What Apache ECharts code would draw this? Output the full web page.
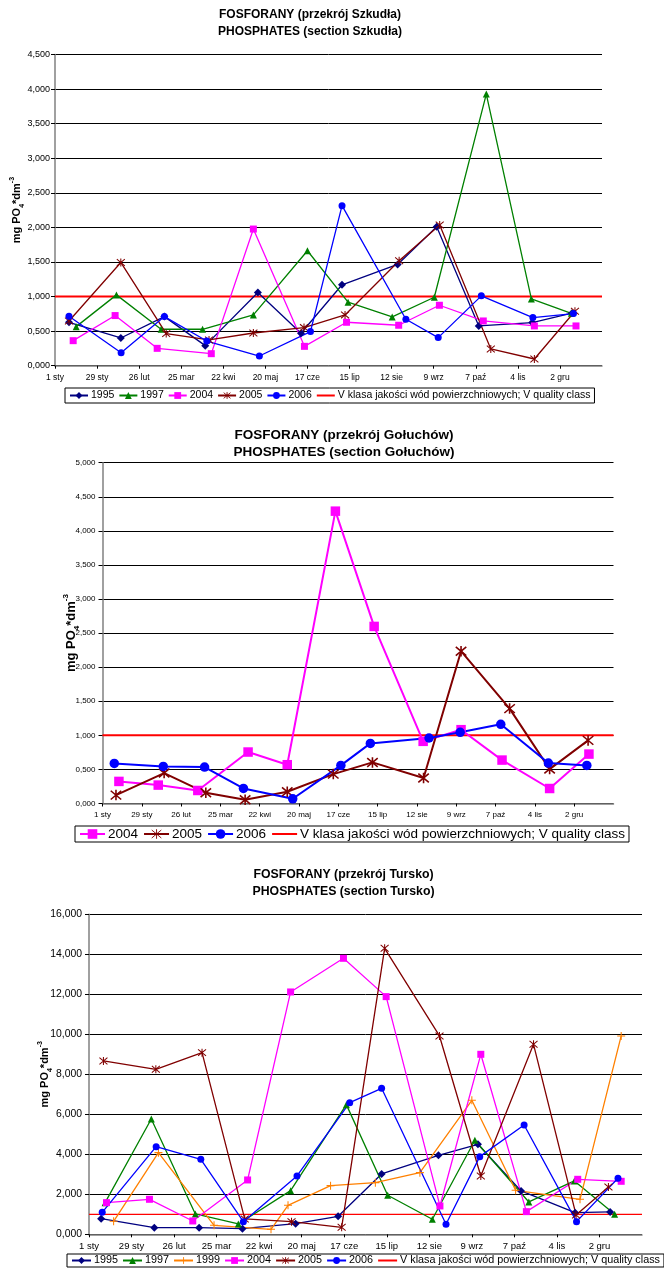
<!DOCTYPE html>
<html>
<head>
<meta charset="utf-8">
<script src="https://cdn.jsdelivr.net/npm/echarts@6/dist/echarts.min.js"></script>
<style>
html,body{margin:0;padding:0;background:#fff;}
.c{position:absolute;left:0;top:0;width:664px;height:1274px;}
</style>
</head>
<body>
<div id="c1" class="c"></div>
<div id="c2" class="c"></div>
<div id="c3" class="c"></div>
<script>
// ---------- x tick labels (every 28 days from 1 Jan) ----------
const xTickLabels = ['1 sty','29 sty','26 lut','25 mar','22 kwi','20 maj','17 cze','15 lip','12 sie','9 wrz','7 paź','4 lis','2 gru'];
const limitName = 'V klasa jakości wód powierzchniowych; V quality class';
const limitValue = 1.0;

// ---------- Chart 1: Szkudła ----------
const titleSzkudla = ['FOSFORANY (przekrój Szkudła)', 'PHOSPHATES (section Szkudła)'];
const szk1995Days = [9.3, 43.8, 72.8, 100, 135, 163.7, 191, 228, 254, 282, 317.6, 344];
const szk1995Vals = [0.628, 0.401, 0.71, 0.29, 1.058, 0.469, 1.17, 1.464, 2.01, 0.575, 0.623, 0.76];
const szk1997Days = [14.1, 40.9, 70.6, 98.2, 132, 168, 195, 224.4, 252.4, 287, 317, 343.6];
const szk1997Vals = [0.565, 1.024, 0.527, 0.527, 0.734, 1.662, 0.918, 0.705, 0.99, 3.928, 0.966, 0.758];
const szk2004Days = [12.1, 40, 68, 104, 132, 166, 194, 228.7, 255.8, 285, 319, 346.7];
const szk2004Vals = [0.362, 0.725, 0.251, 0.174, 1.976, 0.28, 0.628, 0.585, 0.874, 0.647, 0.575, 0.575];
const szk2005Days = [9.3, 43.8, 74, 102.5, 132, 165.7, 193, 229, 256, 290, 319, 346];
const szk2005Vals = [0.647, 1.493, 0.464, 0.372, 0.473, 0.551, 0.734, 1.517, 2.034, 0.242, 0.097, 0.787];
const szk2006Days = [9.3, 44, 72.8, 101, 136, 170, 191, 233.5, 255, 283.7, 318, 345];
const szk2006Vals = [0.715, 0.188, 0.71, 0.357, 0.14, 0.493, 2.314, 0.671, 0.406, 1.01, 0.696, 0.754];

// ---------- Chart 2: Gołuchów ----------
const titleGoluchow = ['FOSFORANY (przekrój Gołuchów)', 'PHOSPHATES (section Gołuchów)'];
const gol2004Days = [11.7, 39.7, 67.9, 103.7, 131.6, 165.9, 193.5, 228.4, 255.4, 284.6, 318.5, 346.5];
const gol2004Vals = [0.324, 0.27, 0.191, 0.755, 0.569, 4.289, 2.598, 0.912, 1.083, 0.637, 0.22, 0.725];
const gol2005Days = [9.6, 43.9, 73.6, 101.6, 131.6, 164.4, 192.3, 228.7, 255.4, 290, 318.5, 345.9];
const gol2005Vals = [0.123, 0.446, 0.157, 0.054, 0.172, 0.431, 0.603, 0.373, 2.235, 1.392, 0.505, 0.926];
const gol2006Days = [8.4, 43.3, 72.7, 100.4, 135.5, 169.8, 190.8, 232.6, 254.8, 283.7, 317.6, 345];
const gol2006Vals = [0.588, 0.544, 0.534, 0.221, 0.069, 0.559, 0.882, 0.961, 1.044, 1.162, 0.593, 0.559];

// ---------- Chart 3: Tursko ----------
const titleTursko = ['FOSFORANY (przekrój Tursko)', 'PHOSPHATES (section Tursko)'];
const tur1995Days = [8, 43, 72.5, 101, 136, 164, 192.6, 230, 256, 284.4, 320, 343];
const tur1995Vals = [0.783, 0.333, 0.333, 0.283, 0.533, 0.9, 3.017, 3.95, 4.5, 2.167, 1.083, 1.117];
const tur1997Days = [10.6, 41, 70, 98.3, 132.7, 169.4, 196.6, 226, 254, 289.5, 319.5, 346];
const tur1997Vals = [1.583, 5.767, 1.017, 0.517, 2.183, 6.483, 1.95, 0.75, 4.7, 1.617, 2.667, 1.0];
const tur1999Days = [16.2, 45.7, 82.3, 119.8, 131, 159, 188.5, 217.8, 252, 280.8, 323.2, 350.3];
const tur1999Vals = [0.65, 4.083, 0.45, 0.25, 1.45, 2.433, 2.583, 3.083, 6.7, 2.2, 1.75, 9.917];
const tur2004Days = [11.5, 39.8, 68.3, 104.4, 132.7, 167.5, 195.6, 231, 257.9, 287.9, 321.7, 350.3];
const tur2004Vals = [1.583, 1.75, 0.667, 2.717, 12.117, 13.8, 11.883, 1.417, 9.0, 1.133, 2.75, 2.65];
const tur2005Days = [9.5, 44, 74.4, 102.5, 133.3, 166.3, 194.6, 230.7, 257.9, 292.6, 320.6, 341.9];
const tur2005Vals = [8.667, 8.25, 9.083, 0.767, 0.633, 0.35, 14.3, 9.917, 2.917, 9.5, 0.967, 2.367];
const tur2006Days = [8.7, 44.2, 73.6, 101.6, 136.9, 171.6, 192.6, 235, 257.2, 286.4, 320.9, 348.2];
const tur2006Vals = [1.1, 4.383, 3.75, 0.633, 2.917, 6.583, 7.3, 0.5, 3.883, 5.467, 0.633, 2.8];

// ---------- styles ----------
const FONT = 'Liberation Sans, Arial, sans-serif';
const ASTERISK = 'path://M0,0L10,10M10,0L0,10M5,-1L5,11';
const PLUS = 'path://M5,0L5,10M0,5L10,5';
const seriesStyle = {
  '1995': {color: '#000080', symbol: 'diamond', stroke: false},
  '1997': {color: '#008000', symbol: 'triangle', stroke: false},
  '1999': {color: '#FF8000', symbol: PLUS, stroke: true},
  '2004': {color: '#FF00FF', symbol: 'rect', stroke: false},
  '2005': {color: '#800000', symbol: ASTERISK, stroke: true},
  '2006': {color: '#0000FF', symbol: 'circle', stroke: false}
};

function mkSeries(name, days, vals, cfg) {
  const st = seriesStyle[name];
  return {
    type: 'line', name: name,
    data: days.map((d, i) => [d, vals[i]]),
    symbol: st.symbol,
    symbolSize: st.stroke ? cfg.sym + 1 : (st.symbol === 'diamond' ? cfg.sym + 1 : cfg.sym),
    lineStyle: {color: st.color, width: cfg.lw},
    itemStyle: st.stroke ? {color: st.color, borderColor: st.color, borderWidth: cfg.lw * 0.8}
                         : {color: st.color, borderWidth: 0},
    z: 3
  };
}

function limitSeries(cfg) {
  return {
    type: 'line', name: limitName,
    data: [[0, limitValue], [364, limitValue]],
    symbol: 'none',
    lineStyle: {color: '#FF0000', width: cfg.redW},
    itemStyle: {color: '#FF0000'},
    z: 2
  };
}

function yFmt(v) { return v.toFixed(3).replace('.', ','); }
function xFmt(v) {
  const i = Math.round(v / 28);
  if (Math.abs(v - i * 28) < 0.01 && xTickLabels[i]) return xTickLabels[i];
  return '';
}

function buildOption(cfg) {
  const series = cfg.series.map(s => mkSeries(s[0], s[1], s[2], cfg));
  series.push(limitSeries(cfg));
  const nf = cfg.nameFont, sf = Math.round(cfg.nameFont * 0.62);
  const legendData = cfg.series.map(s => {
    const st = seriesStyle[s[0]];
    return st.stroke ? {name: s[0], itemStyle: {borderWidth: 0.9}} : {name: s[0]};
  });
  legendData.push({name: limitName, itemStyle: {opacity: 0}});
  return {
    animation: false,
    backgroundColor: 'transparent',
    textStyle: {fontFamily: FONT},
    graphic: [
      {type: 'text', x: cfg.titleX, y: cfg.titleY[0],
       style: {text: cfg.title[0], font: 'bold ' + cfg.titleFont + 'px ' + FONT, fill: '#000', align: 'center', verticalAlign: 'middle'}},
      {type: 'text', x: cfg.titleX, y: cfg.titleY[1],
       style: {text: cfg.title[1], font: 'bold ' + cfg.titleFont + 'px ' + FONT, fill: '#000', align: 'center', verticalAlign: 'middle'}}
    ],
    grid: {left: cfg.grid[0], top: cfg.grid[1], width: cfg.grid[2] - cfg.grid[0], height: cfg.grid[3] - cfg.grid[1], containLabel: false},
    legend: {
      left: cfg.legend[0], top: cfg.legend[1],
      data: legendData,
      orient: 'horizontal',
      borderColor: '#000', borderWidth: 1,
      padding: cfg.legendPad,
      itemGap: cfg.legendGap,
      itemWidth: cfg.legendIconW, itemHeight: cfg.legendIconH,
      textStyle: {fontSize: cfg.legendFont, color: '#000', fontFamily: FONT, padding: [0, 0, 0, -2]},
      selectedMode: false
    },
    xAxis: {
      type: 'value', min: 0, max: 364, interval: 28,
      axisLine: {show: true, lineStyle: {color: '#808080', width: 1.5}},
      axisTick: {show: true, length: 3, lineStyle: {color: '#000'}},
      axisLabel: {formatter: xFmt, fontSize: cfg.xFont, color: '#000', margin: cfg.xMargin, showMaxLabel: false},
      splitLine: {show: false}
    },
    yAxis: {
      type: 'value', min: 0, max: cfg.ymax, interval: cfg.yint,
      axisLine: {show: true, lineStyle: {color: '#808080', width: 1.5}},
      axisTick: {show: true, length: 4, lineStyle: {color: '#000'}},
      axisLabel: {formatter: yFmt, fontSize: cfg.yFont, color: '#000', margin: cfg.yMargin},
      splitLine: {show: true, lineStyle: {color: '#000', width: 1}},
      name: '{a|mg PO}{b|4}{a|*dm}{c|-3}',
      nameLocation: 'middle', nameRotate: 90, nameGap: cfg.nameGap,
      nameMoveOverlap: false,
      nameTextStyle: {
        rich: {
          a: {fontSize: nf, fontWeight: 'bold', fontFamily: FONT, color: '#000', lineHeight: nf + 6, verticalAlign: 'middle'},
          b: {fontSize: sf, fontWeight: 'bold', fontFamily: FONT, color: '#000', lineHeight: nf + 6, verticalAlign: 'bottom'},
          c: {fontSize: sf, fontWeight: 'bold', fontFamily: FONT, color: '#000', lineHeight: nf + 6, verticalAlign: 'top'}
        }
      }
    },
    series: series
  };
}

const cfg1 = {
  title: titleSzkudla, titleX: 310, titleY: [15, 31.7], titleFont: 12,
  grid: [55, 54.5, 602, 365.7], ymax: 4.5, yint: 0.5,
  xFont: 8.5, xMargin: 7, yFont: 9, yMargin: 5,
  nameFont: 11, nameGap: 29.5,
  legend: [65, 388], legendPad: [2, 4, 2, 4], legendGap: 4, legendIconW: 18, legendIconH: 8.5, legendFont: 10.5,
  sym: 7, lw: 1.3, redW: 2,
  series: [['1995', szk1995Days, szk1995Vals], ['1997', szk1997Days, szk1997Vals], ['2004', szk2004Days, szk2004Vals],
           ['2005', szk2005Days, szk2005Vals], ['2006', szk2006Days, szk2006Vals]]
};
const cfg2 = {
  title: titleGoluchow, titleX: 344, titleY: [435, 452.3], titleFont: 13.5,
  grid: [102.5, 462.7, 613.5, 803.5], ymax: 5, yint: 0.5,
  xFont: 8, xMargin: 7, yFont: 8, yMargin: 7,
  nameFont: 13, nameGap: 22,
  legend: [75, 826], legendPad: [1, 4, 1, 4], legendGap: 5, legendIconW: 25, legendIconH: 12, legendFont: 13.5,
  sym: 9.5, lw: 2, redW: 2,
  series: [['2004', gol2004Days, gol2004Vals], ['2005', gol2005Days, gol2005Vals], ['2006', gol2006Days, gol2006Vals]]
};
const cfg3 = {
  title: titleTursko, titleX: 343.5, titleY: [875, 891.7], titleFont: 12.3,
  grid: [89, 914.3, 642, 1234.3], ymax: 16, yint: 2,
  xFont: 9.5, xMargin: 7, yFont: 10.4, yMargin: 7,
  nameFont: 11, nameGap: 35.5,
  legend: [67, 1254], legendPad: [1, 4, 1, 4], legendGap: 4, legendIconW: 19, legendIconH: 8.5, legendFont: 10.8,
  sym: 7, lw: 1.3, redW: 1.3,
  series: [['1995', tur1995Days, tur1995Vals], ['1997', tur1997Days, tur1997Vals], ['1999', tur1999Days, tur1999Vals],
           ['2004', tur2004Days, tur2004Vals], ['2005', tur2005Days, tur2005Vals], ['2006', tur2006Days, tur2006Vals]]
};

[['c1', cfg1], ['c2', cfg2], ['c3', cfg3]].forEach(([id, cfg]) => {
  const chart = echarts.init(document.getElementById(id), null, {renderer: 'canvas'});
  chart.setOption(buildOption(cfg));
});
</script>
</body>
</html>
